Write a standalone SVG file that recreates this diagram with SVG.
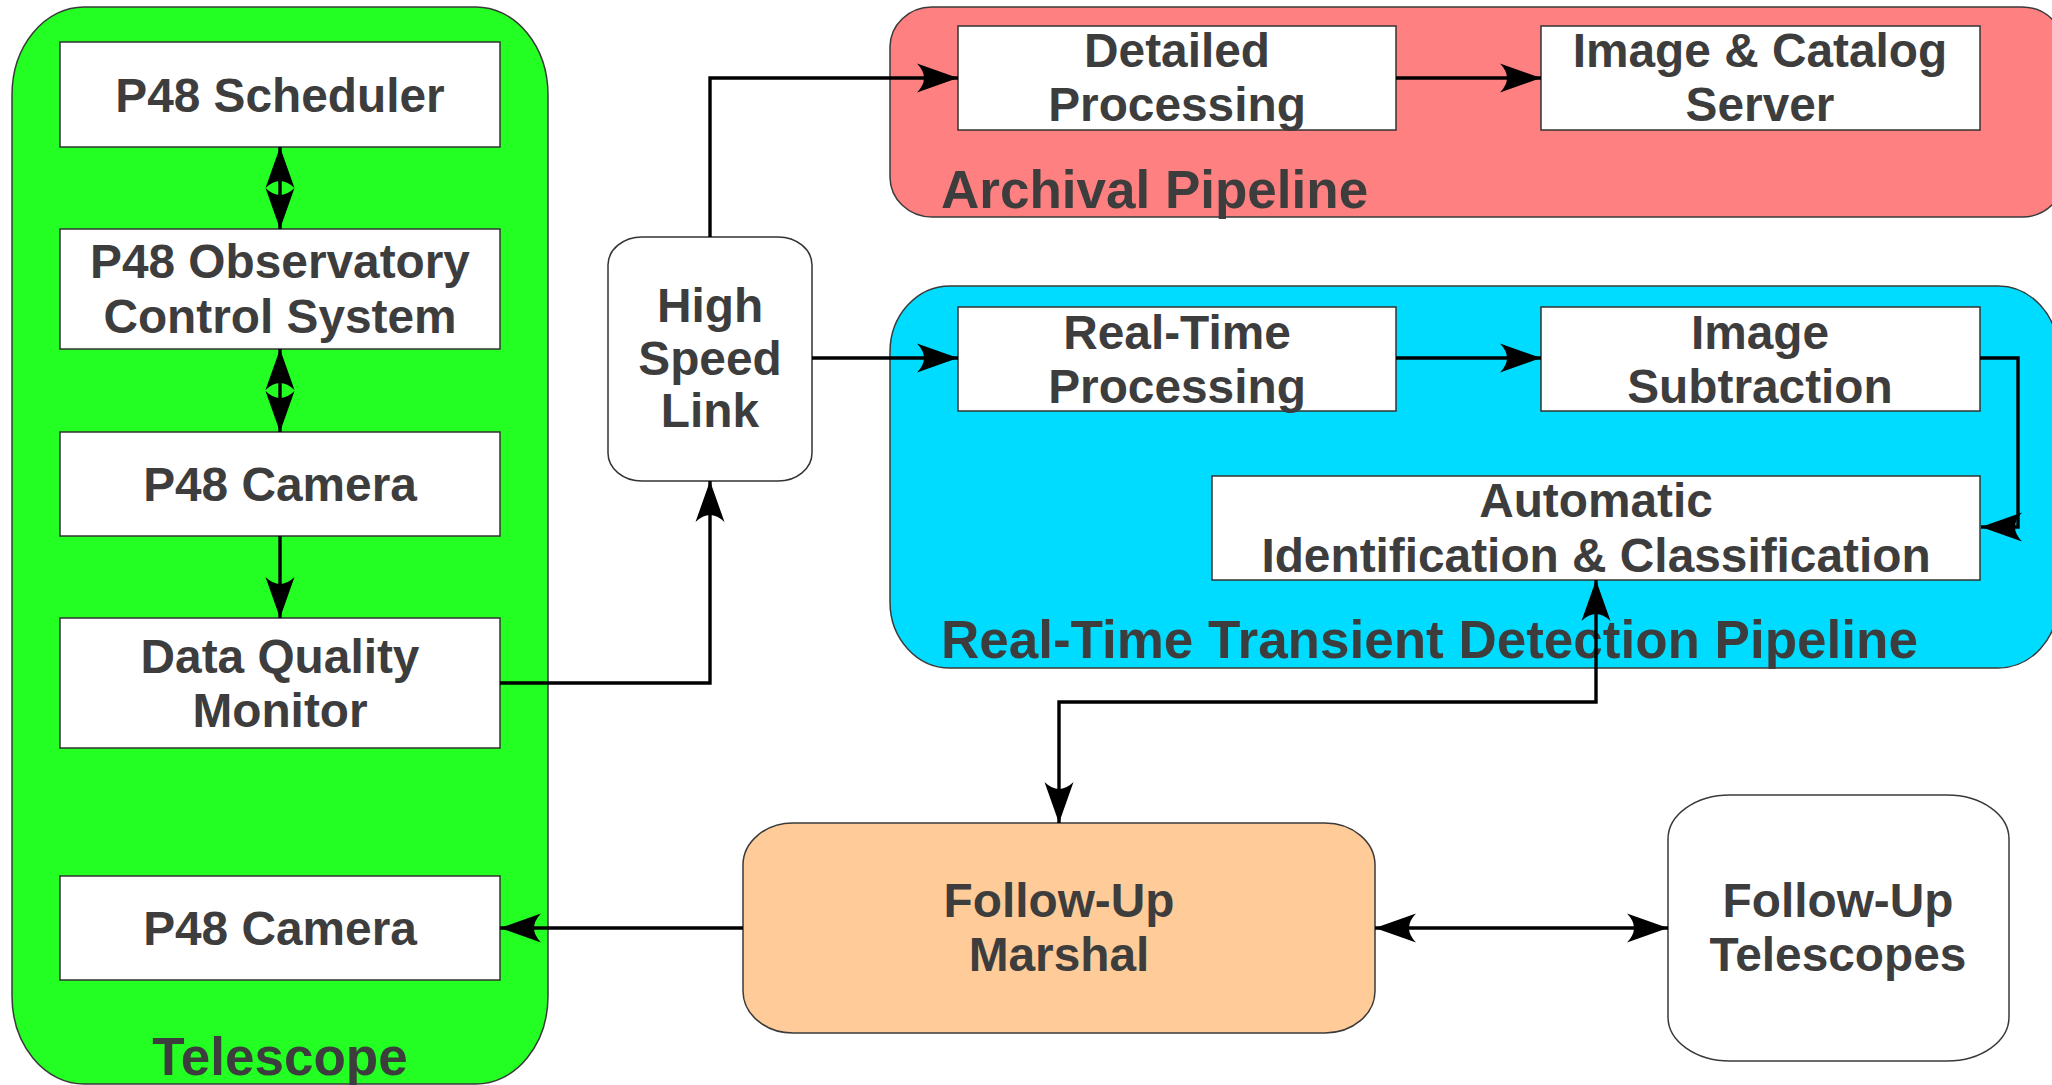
<svg xmlns="http://www.w3.org/2000/svg" width="2052" height="1085" viewBox="0 0 2052 1085">
  <style>
    .grp { stroke: #3a3a3a; stroke-width: 1.5; }
    .box { fill: #ffffff; stroke: #333333; stroke-width: 1.5; }
    .lbl { font-family: "Liberation Sans", Arial, sans-serif; font-weight: bold; font-size: 47.8px; fill: #3d3d3d; text-anchor: middle; }
    .title { font-family: "Liberation Sans", Arial, sans-serif; font-weight: bold; font-size: 53px; fill: #3d3d3d; }
    .conn { fill: none; stroke: #000000; stroke-width: 3.4; stroke-linejoin: miter; }
  </style>
  <defs>
    <marker id="arrow" markerUnits="userSpaceOnUse" markerWidth="50" markerHeight="40" viewBox="-45 -20 50 40" refX="0" refY="0" orient="auto-start-reverse" overflow="visible">
      <path d="M0,0 L-41,-14.5 Q-27,0 -41,14.5 Z" fill="#000000"/>
    </marker>
  </defs>

  <rect width="2052" height="1085" fill="#ffffff"/>

  <!-- Telescope container -->
  <g id="telescope">
    <rect class="grp" x="12" y="7" width="536" height="1077" rx="72" ry="88" fill="#23ff23"/>
    <text class="title" x="280" y="1075" text-anchor="middle">Telescope</text>
  </g>

  <!-- Archival pipeline container -->
  <g id="archival-pipeline">
    <rect class="grp" x="890" y="7" width="1174" height="210" rx="42" ry="40" fill="#ff8080"/>
    <text class="title" x="941" y="208">Archival Pipeline</text>
  </g>

  <!-- Real-time transient detection pipeline container -->
  <g id="realtime-pipeline">
    <rect class="grp" x="890" y="286" width="1168" height="382" rx="60" ry="66" fill="#00dcff"/>
    <text class="title" x="941" y="658">Real-Time Transient Detection Pipeline</text>
  </g>

  <g id="p48-scheduler">
    <rect class="box" x="60" y="42" width="440" height="105"/>
    <text class="lbl" x="280" y="112">P48 Scheduler</text>
  </g>

  <g id="p48-ocs">
    <rect class="box" x="60" y="229" width="440" height="120"/>
    <text class="lbl" x="280" y="278">P48 Observatory</text>
    <text class="lbl" x="280" y="333">Control System</text>
  </g>

  <g id="p48-camera">
    <rect class="box" x="60" y="432" width="440" height="104"/>
    <text class="lbl" x="280" y="501">P48 Camera</text>
  </g>

  <g id="data-quality-monitor">
    <rect class="box" x="60" y="618" width="440" height="130"/>
    <text class="lbl" x="280" y="673">Data Quality</text>
    <text class="lbl" x="280" y="727">Monitor</text>
  </g>

  <g id="p48-camera-followup">
    <rect class="box" x="60" y="876" width="440" height="104"/>
    <text class="lbl" x="280" y="945">P48 Camera</text>
  </g>

  <g id="high-speed-link">
    <rect class="box" x="608" y="237" width="204" height="244" rx="34" ry="28"/>
    <text class="lbl" x="710" y="322">High</text>
    <text class="lbl" x="710" y="375">Speed</text>
    <text class="lbl" x="710" y="427">Link</text>
  </g>

  <g id="detailed-processing">
    <rect class="box" x="958" y="26" width="438" height="104"/>
    <text class="lbl" x="1177" y="67">Detailed</text>
    <text class="lbl" x="1177" y="121">Processing</text>
  </g>

  <g id="image-catalog-server">
    <rect class="box" x="1541" y="26" width="439" height="104"/>
    <text class="lbl" x="1760" y="67">Image &amp; Catalog</text>
    <text class="lbl" x="1760" y="121">Server</text>
  </g>

  <g id="realtime-processing">
    <rect class="box" x="958" y="307" width="438" height="104"/>
    <text class="lbl" x="1177" y="349">Real-Time</text>
    <text class="lbl" x="1177" y="403">Processing</text>
  </g>

  <g id="image-subtraction">
    <rect class="box" x="1541" y="307" width="439" height="104"/>
    <text class="lbl" x="1760" y="349">Image</text>
    <text class="lbl" x="1760" y="403">Subtraction</text>
  </g>

  <g id="automatic-classification">
    <rect class="box" x="1212" y="476" width="768" height="104"/>
    <text class="lbl" x="1596" y="517">Automatic</text>
    <text class="lbl" x="1596" y="572">Identification &amp; Classification</text>
  </g>

  <g id="followup-marshal">
    <rect class="grp" x="743" y="823" width="632" height="210" rx="50" ry="42" fill="#ffcc99"/>
    <text class="lbl" x="1059" y="917">Follow-Up</text>
    <text class="lbl" x="1059" y="971">Marshal</text>
  </g>

  <g id="followup-telescopes">
    <rect class="grp" x="1668" y="795" width="341" height="266" rx="62" ry="44" fill="#ffffff"/>
    <text class="lbl" x="1838" y="917">Follow-Up</text>
    <text class="lbl" x="1838" y="971">Telescopes</text>
  </g>

  <!-- Connectors -->
  <g id="connectors">
    <path class="conn" d="M280,147 V229" marker-start="url(#arrow)" marker-end="url(#arrow)"/>
    <path class="conn" d="M280,349 V432" marker-start="url(#arrow)" marker-end="url(#arrow)"/>
    <path class="conn" d="M280,536 V618" marker-end="url(#arrow)"/>
    <path class="conn" d="M500,683 H710 V481" marker-end="url(#arrow)"/>
    <path class="conn" d="M710,237 V78 H958" marker-end="url(#arrow)"/>
    <path class="conn" d="M812,358 H958" marker-end="url(#arrow)"/>
    <path class="conn" d="M1396,78 H1541" marker-end="url(#arrow)"/>
    <path class="conn" d="M1396,358 H1541" marker-end="url(#arrow)"/>
    <path class="conn" d="M1980,358 H2018 V527 H1981" marker-end="url(#arrow)"/>
    <path class="conn" d="M1596,580 V702 H1059 V823" marker-start="url(#arrow)" marker-end="url(#arrow)"/>
    <path class="conn" d="M1375,928 H1668" marker-start="url(#arrow)" marker-end="url(#arrow)"/>
    <path class="conn" d="M743,928 H500" marker-end="url(#arrow)"/>
  </g>
</svg>
